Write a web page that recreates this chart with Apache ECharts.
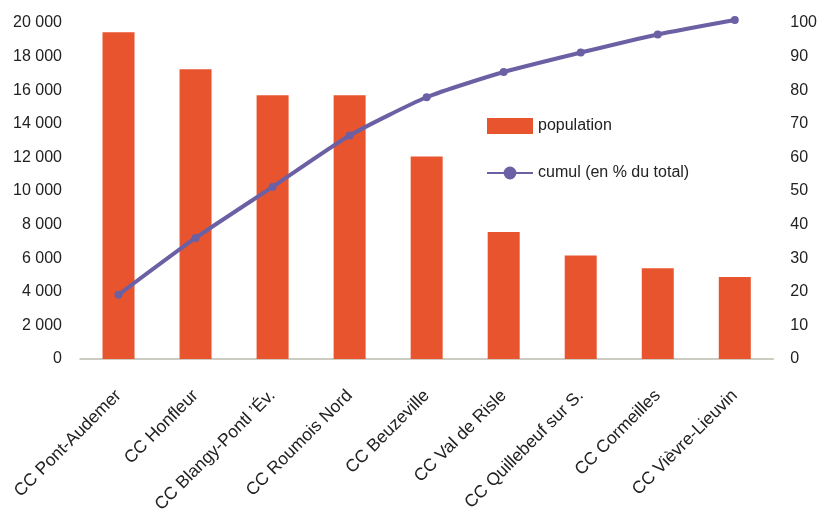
<!DOCTYPE html>
<html>
<head>
<meta charset="utf-8">
<script src="https://cdn.jsdelivr.net/npm/echarts@6/dist/echarts.min.js"></script>
<style>
  html, body { margin: 0; padding: 0; background: #fff; }
  #chart { width: 820px; height: 516px; }
</style>
</head>
<body>
<div id="chart"></div>
<script>
var categories = ['CC Pont-Audemer', 'CC Honfleur', 'CC Blangy-Pontl \u2019Év.', 'CC Roumois Nord',
  'CC Beuzeville', 'CC Val de Risle', 'CC Quillebeuf sur S.', 'CC Cormeilles', 'CC Vièvre-Lieuvin']
var population = [19450, 17250, 15700, 15700, 12050, 7550, 6150, 5400, 4870]
var cumul = [19.1, 36.0, 51.2, 66.5, 77.9, 85.4, 91.2, 96.6, 100.9]

var font = 'Liberation Sans, Arial, sans-serif'
var chart = echarts.init(document.getElementById('chart'))

var option = {
  animation: false,
  textStyle: { fontFamily: font },
  grid: { left: 80, right: 43, top: 23, bottom: 156 },
  legend: {
    orient: 'vertical',
    left: 481,
    top: 113,
    itemWidth: 46,
    itemHeight: 16,
    itemGap: 31,
    textStyle: { fontSize: 16, color: '#222', fontFamily: font },
    data: [
      { name: 'population', icon: 'rect' },
      { name: 'cumul (en % du total)' }
    ]
  },
  xAxis: {
    type: 'category',
    data: categories,
    axisTick: { show: false },
    axisLine: { lineStyle: { color: '#bdbcae', width: 1.5 } },
    axisLabel: {
      rotate: 45,
      interval: 0,
      margin: 34,
      fontSize: 17.5,
      color: '#222',
      fontFamily: font
    }
  },
  yAxis: [
    {
      type: 'value',
      min: 0,
      max: 20000,
      interval: 2000,
      splitLine: { show: false },
      axisLine: { show: false },
      axisLabel: {
        margin: 18,
        fontSize: 16,
        color: '#222',
        fontFamily: font,
        formatter: function (v) {
          return String(v).replace(/\B(?=(\d{3})+(?!\d))/g, ' ')
        }
      }
    },
    {
      type: 'value',
      min: 0,
      max: 100,
      interval: 10,
      splitLine: { show: false },
      axisLine: { show: false },
      axisLabel: { margin: 17, fontSize: 16, color: '#222', fontFamily: font }
    }
  ],
  series: [
    {
      name: 'population',
      type: 'bar',
      data: population,
      barWidth: 32,
      itemStyle: { color: '#e8542d' }
    },
    {
      name: 'cumul (en % du total)',
      type: 'line',
      yAxisIndex: 1,
      data: cumul,
      smooth: 0.2,
      clip: false,
      symbol: 'circle',
      symbolSize: 8,
      lineStyle: { color: '#6c60a4', width: 4 },
      itemStyle: { color: '#6c60a4' }
    }
  ]
}

chart.setOption(option)
</script>
</body>
</html>
